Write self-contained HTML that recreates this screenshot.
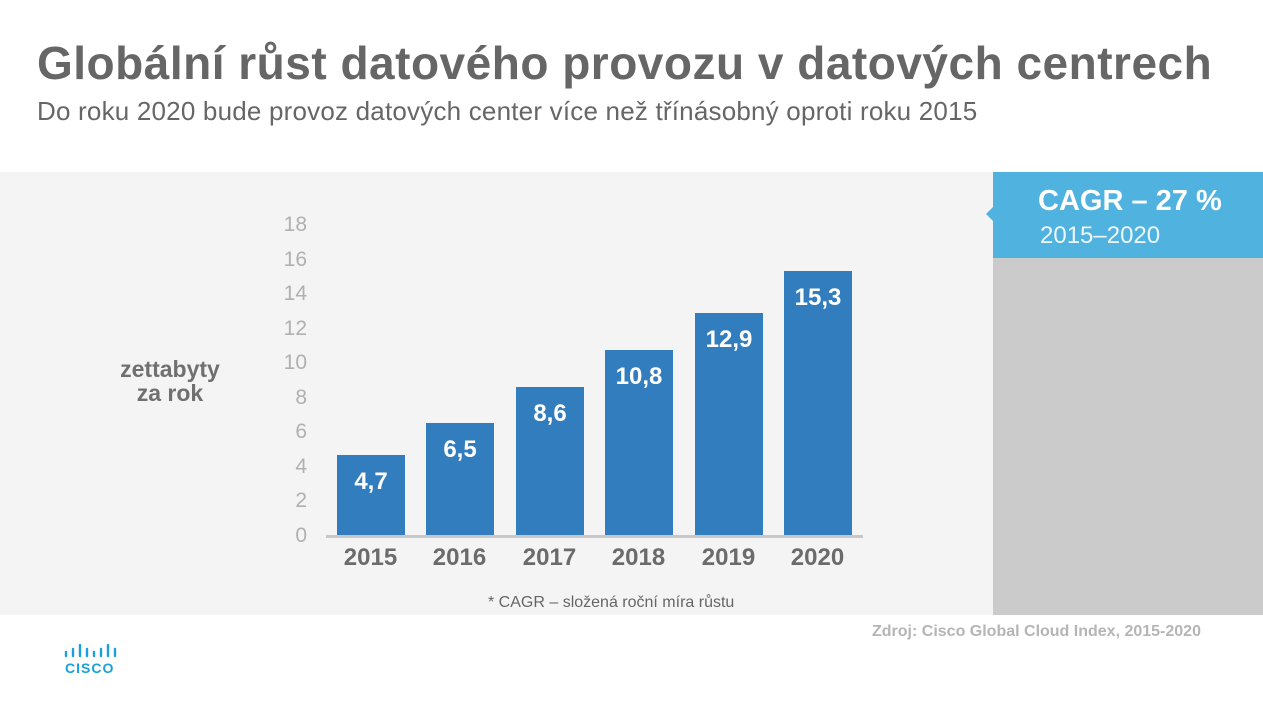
<!DOCTYPE html>
<html><head><meta charset="utf-8"><style>
body{margin:0;width:1263px;height:710px;background:#fff;position:relative;overflow:hidden;font-family:"Liberation Sans",sans-serif}
div{position:absolute}
.t{right:956px;width:40px;text-align:right;color:#b0b0b0;font-size:21px;line-height:20px}
.bar{background:#327dbd;width:68px;color:#fff;font-weight:bold;font-size:24px;text-align:center}
.bar span{position:relative;top:13px;display:block}
.y{color:#6b6b6b;font-weight:bold;font-size:24px;width:89px;text-align:center;top:544px}
</style></head><body>
<div style="left:37px;top:36px;font-size:46px;font-weight:bold;color:#666;letter-spacing:0.5px;white-space:nowrap">Globální růst datového provozu v datových centrech</div>
<div style="left:37px;top:96px;font-size:26px;color:#666;letter-spacing:0.2px;white-space:nowrap">Do roku 2020 bude provoz datových center více než třínásobný oproti roku 2015</div>
<div style="left:0;top:172px;width:993px;height:443px;background:#f4f4f4"></div>
<div style="left:993px;top:172px;width:270px;height:443px;background:#cbcbcb"></div>
<div style="left:993px;top:172px;width:270px;height:86px;background:#50b3df"></div>
<div style="left:986px;top:206px;width:0;height:0;border-top:8px solid transparent;border-bottom:8px solid transparent;border-right:8px solid #50b3df"></div>
<div style="left:1038px;top:185px;font-size:29px;font-weight:bold;color:#fff">CAGR – 27 %</div>
<div style="left:1040px;top:222px;font-size:24px;color:#eef6fb">2015–2020</div>
<div style="left:110px;top:357px;width:120px;text-align:center;font-size:23px;font-weight:bold;color:#707070;line-height:24px">zettabyty<br>za rok</div>
<div class="t" style="top:215px">18</div>
<div class="t" style="top:250px">16</div>
<div class="t" style="top:284px">14</div>
<div class="t" style="top:319px">12</div>
<div class="t" style="top:353px">10</div>
<div class="t" style="top:388px">8</div>
<div class="t" style="top:422px">6</div>
<div class="t" style="top:457px">4</div>
<div class="t" style="top:491px">2</div>
<div class="t" style="top:526px">0</div>
<div class="bar" style="left:337px;top:455px;height:80px"><span>4,7</span></div>
<div class="bar" style="left:426px;top:423px;height:112px"><span>6,5</span></div>
<div class="bar" style="left:516px;top:387px;height:148px"><span>8,6</span></div>
<div class="bar" style="left:605px;top:350px;height:185px"><span>10,8</span></div>
<div class="bar" style="left:695px;top:313px;height:222px"><span>12,9</span></div>
<div class="bar" style="left:784px;top:271px;height:264px"><span>15,3</span></div>
<div style="left:326px;top:535px;width:537px;height:3px;background:#c8c8c8"></div>
<div class="y" style="left:326px">2015</div>
<div class="y" style="left:415px">2016</div>
<div class="y" style="left:505px">2017</div>
<div class="y" style="left:594px">2018</div>
<div class="y" style="left:684px">2019</div>
<div class="y" style="left:773px">2020</div>
<div style="left:488px;top:594px;font-size:16px;color:#666">* CAGR – složená roční míra růstu</div>
<div style="left:872px;top:623px;font-size:16px;font-weight:bold;color:#b5b5b5;white-space:nowrap">Zdroj: Cisco Global Cloud Index, 2015-2020</div>
<svg style="position:absolute;left:64px;top:644px" width="56" height="14"><g stroke="#1ba0d7" stroke-width="2.4" stroke-linecap="round">
<line x1="2" y1="8" x2="2" y2="12"/><line x1="9" y1="5" x2="9" y2="12"/><line x1="16" y1="1" x2="16" y2="12"/><line x1="23" y1="5" x2="23" y2="12"/><line x1="30" y1="8" x2="30" y2="12"/><line x1="37" y1="5" x2="37" y2="12"/><line x1="44" y1="1" x2="44" y2="12"/><line x1="51" y1="5" x2="51" y2="12"/></g></svg>
<div style="left:65px;top:660px;font-size:14px;font-weight:bold;color:#1ba0d7;letter-spacing:1px">CISCO</div>
</body></html>
